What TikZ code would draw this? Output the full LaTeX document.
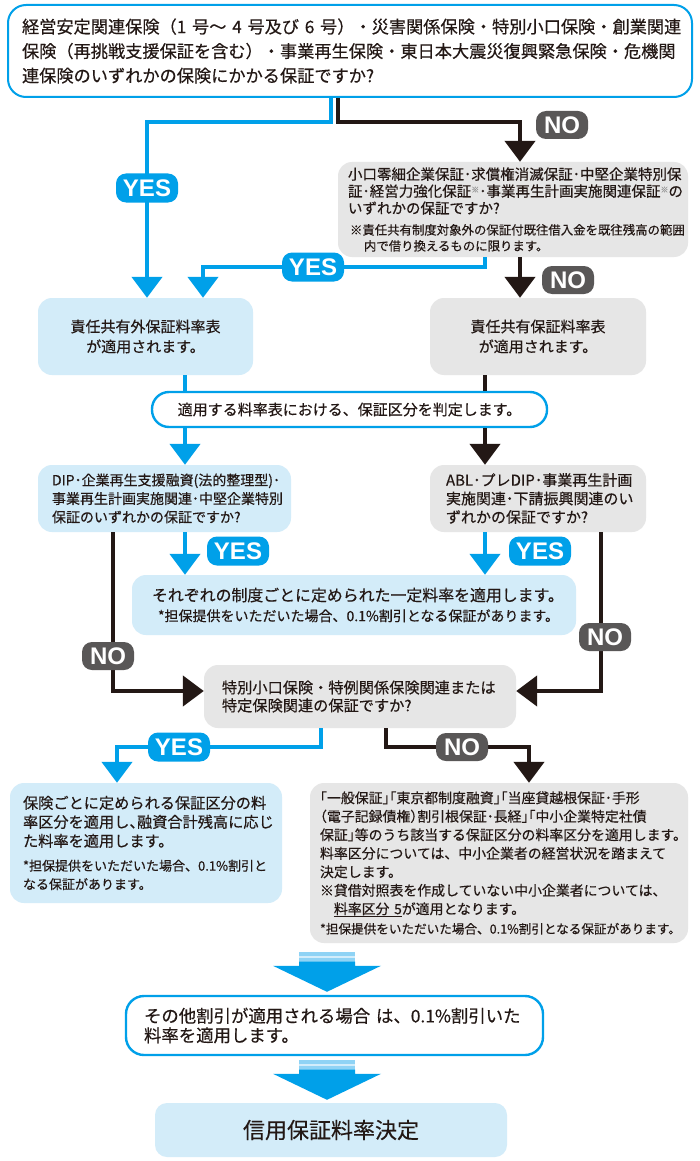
\documentclass[tikz,border=0pt]{standalone}
\usepackage{fontspec}
\setmainfont{Noto Sans CJK JP}[FakeBold=0.4]
\newfontfamily\lblfont{Liberation Sans}
\usetikzlibrary{arrows.meta}

\definecolor{cyanline}{HTML}{00A0E9}
\definecolor{paleblue}{HTML}{D3ECF9}
\definecolor{palegray}{HTML}{E6E6E6}
\definecolor{inkblack}{HTML}{231815}
\definecolor{nogray}{HTML}{595757}
\definecolor{stripeA}{HTML}{8FD3F5}
\definecolor{stripeB}{HTML}{D2EDFB}

\newcommand{\fsz}[2]{\fontsize{#1}{#2}\selectfont}
\newcommand{\kome}{\raisebox{4pt}{\fsz{8}{8}\color{gray!80}※}}
\newcommand{\kagL}{\makebox[.5em][r]{「}}
\newcommand{\kagR}{\makebox[.5em][l]{」}}
\newcommand{\parL}{\makebox[.5em][r]{（}}
\newcommand{\parR}{\makebox[.5em][l]{）}}
\newcommand{\cten}{\makebox[.5em][l]{、}}
% wide striped arrow, #1 = its tip
\newcommand{\fatarrow}[1]{%
  \begin{scope}[shift={#1}]
    \fill[stripeA] (-28,-40) rectangle (28,-36);
    \fill[stripeB] (-28,-36) rectangle (28,-34);
    \fill[stripeA] (-28,-34) rectangle (28,-30);
    \fill[cyanline] (0,0) -- (-54,-26) -- (-28,-26) -- (-28,-30.2) -- (28,-30.2) -- (28,-26) -- (54,-26) -- cycle;
  \end{scope}}

\begin{document}
\begin{tikzpicture}[x=1pt, y=-1pt,
  bluebox/.style={fill=paleblue, rounded corners=14pt, inner ysep=0pt, text=inkblack},
  graybox/.style={fill=palegray, rounded corners=14pt, inner ysep=0pt, text=inkblack},
  linebox/.style={draw=cyanline, line width=2.4pt, fill=white, inner ysep=0pt, text=inkblack},
  yesline/.style={draw=cyanline, line width=4.6pt, -{Triangle[width=30pt,length=21pt]}},
  noline/.style={draw=inkblack, line width=4.6pt, -{Triangle[width=30pt,length=21pt]}},
  yesplain/.style={draw=cyanline, line width=4.6pt},
  noplain/.style={draw=inkblack, line width=4.6pt},
  yeslbl/.style={fill=cyanline, text=white, rounded corners=10pt, minimum width=62pt, minimum height=29pt, inner sep=0pt, font=\lblfont\bfseries\fsz{24}{24}},
  nolbl/.style={fill=nogray, text=white, rounded corners=10pt, minimum width=52pt, minimum height=28pt, inner sep=0pt, font=\lblfont\bfseries\fsz{24}{24}}]

\useasboundingbox (0,0) rectangle (700,1161);
\fill[white] (0,0) rectangle (700,1161);

% boxes
\node[linebox, line width=2pt, rounded corners=18pt, minimum height=92pt, inner xsep=14pt, text width=656pt, align=left, font=\fsz{17.2}{24.5}] (top) at (350,51)
  {経営安定関連保険（1~号～~4~号及び~6~号）・災害関係保険・特別小口保険・創業関連\\保険（再挑戦支援保証を含む）・事業再生保険・東日本大震災復興緊急保険・危機関\\連保険のいずれかの保険にかかる保証ですか?};
\node[graybox, minimum height=95pt, inner xsep=10pt, text width=330pt, align=left, font=\fsz{14.5}{17}] (q2) at (513,209.5)
  {小口零細企業保証･求償権消滅保証･中堅企業特別保\\証･経営力強化保証\kome{}･事業再生計画実施関連保証\kome{}の\\いずれかの保証ですか?\par\vspace{5pt}%
   {\fsz{12.4}{16}\hspace*{2pt}※責任共有制度対象外の保証付既往借入金を既往残高の範囲\\\hspace*{16pt}内で借り換えるものに限ります。\par}};
\node[bluebox, minimum width=215pt, minimum height=77pt, align=center, font=\fsz{15}{20}] (ngai) at (145.5,336.5) {責任共有外保証料率表\\が適用されます。};
\node[graybox, minimum width=216pt, minimum height=77pt, align=center, font=\fsz{15}{20}] (kyou) at (538,336.5) {責任共有保証料率表\\が適用されます。};
\node[linebox, rounded corners=17pt, minimum width=395pt, minimum height=35pt, font=\fsz{15}{18}] (hantei) at (349.5,409.5) {適用する料率表における、保証区分を判定します。};
\node[bluebox, minimum height=67pt, inner xsep=14pt, text width=225pt, align=left, font=\fsz{14}{18.5}] (dip) at (164.5,498.5)
  {DIP･企業再生支援融資(法的整理型)･\\事業再生計画実施関連･中堅企業特別\\保証のいずれかの保証ですか?};
\node[graybox, minimum height=67pt, inner xsep=16pt, text width=184pt, align=left, font=\fsz{15}{18.5}] (abl) at (538,498.5)
  {ABL･プレDIP･事業再生計画\\実施関連･下請振興関連のい\\ずれかの保証ですか?};
\node[bluebox, minimum height=60pt, inner xsep=20pt, text width=404pt, align=left, font=\fsz{15.9}{20}] (ittei) at (354,605)
  {それぞれの制度ごとに定められた一定料率を適用します。\\{\fsz{14}{20}\hspace*{6pt}*担保提供をいただいた場合、0.1\%割引となる保証があります。}};
\node[graybox, minimum height=63pt, inner xsep=18pt, text width=276pt, align=left, font=\fsz{15.2}{18}] (tokurei) at (360,696.5)
  {特別小口保険・特例関係保険関連または\\特定保険関連の保証ですか?};
\node[bluebox, minimum height=120pt, inner xsep=13pt, text width=246pt, align=left, font=\fsz{15.2}{19}] (hoken) at (146,843)
  {保険ごとに定められる保証区分の料\\率区分を適用し\cten 融資合計残高に応じ\\た料率を適用します。\par\vspace{5.5pt}%
   {\fsz{13}{18.5}*担保提供をいただいた場合、0.1\%割引と\\なる保証があります。\par}};
\node[graybox, minimum height=160pt, inner xsep=10pt, text width=358pt, align=left, font=\fsz{13.9}{18.5}] (ippan) at (499,863)
  {\kagL 一般保証\kagR\kagL 東京都制度融資\kagR\kagL 当座貸越根保証･手形\\
   \parL 電子記録債権\parR 割引根保証･長経\kagR\kagL 中小企業特定社債\\
   保証\kagR 等のうち該当する保証区分の料率区分を適用します。\\
   料率区分については、中小企業者の経営状況を踏まえて\\
   決定します。\\
   ※貸借対照表を作成していない中小企業者については、\\
   \hspace*{1em}\underline{料率区分~5}が適用となります。\par\vspace{0.5pt}%
   {\fsz{12.6}{19}*担保提供をいただいた場合、0.1\%割引となる保証があります。\par}};
\node[linebox, rounded corners=18pt, minimum height=59pt, inner xsep=18pt, text width=381pt, align=left, font=\fsz{17.4}{19.5}] (sonota) at (334.5,1025.5)
  {その他割引が適用される場合~は、0.1\%割引いた\\料率を適用します。};
\node[bluebox, rounded corners=12pt, minimum width=352pt, minimum height=54pt, font=\fsz{22}{26}] (kettei) at (331,1130) {信用保証料率決定};

% columns and rows of the connectors
\foreach \nm/\x in {cA/331, cB/338, cC/147, cD/520, cE/485, cF/203, cG/185, cH/485, cK/113, cL/601, cM/321, cN/117, cO/386, cP/529}
  \coordinate (\nm) at (\x,0);
\foreach \nm/\y in {rA/122, rB/267, rC/691, rD/747}
  \coordinate (\nm) at (0,\y);

\draw[yesline] (cA |- top.south) -- (cA |- rA) -| (cC |- ngai.north);
\draw[noline] (cB |- top.south) -- (cB |- rA) -| (cD |- q2.north);
\draw[yesline] (cE |- q2.south) -- (cE |- rB) -| (cF |- ngai.north);
\draw[noline] (cD |- q2.south) -- (cD |- kyou.north);

\draw[yesplain] (cG |- ngai.south) -- (cG |- hantei.north);
\draw[noplain] (cH |- kyou.south) -- (cH |- hantei.north);
\draw[yesline] (cG |- hantei.south) -- (cG |- dip.north);
\draw[noline] (cH |- hantei.south) -- (cH |- abl.north);

\draw[yesline] (cG |- dip.south) -- (cG |- ittei.north);
\draw[yesline] (cH |- abl.south) -- (cH |- ittei.north);
\draw[noline] (cK |- dip.south) |- (rC -| tokurei.west);
\draw[noline] (cL |- abl.south) |- (rC -| tokurei.east);

\draw[yesline] (cM |- tokurei.south) -- (cM |- rD) -| (cN |- hoken.north);
\draw[noline] (cO |- tokurei.south) -- (cO |- rD) -| (cP |- ippan.north);

\fatarrow{([xshift=-7.5pt,yshift=3pt]sonota.north)}
\fatarrow{([xshift=-4pt,yshift=3pt]kettei.north)}

% labels
\foreach \nm/\x/\y in {yA/147/188, yB/313/267, yC/238/551, yD/540/551, yE/179/747}
  \node[yeslbl] (\nm) at (\x,\y) {YES};
\foreach \nm/\x/\y in {nA/562/125, nB/568/280, nC/108/656, nD/605/637, nE/462/747}
  \node[nolbl] (\nm) at (\x,\y) {NO};
\end{tikzpicture}
\end{document}
